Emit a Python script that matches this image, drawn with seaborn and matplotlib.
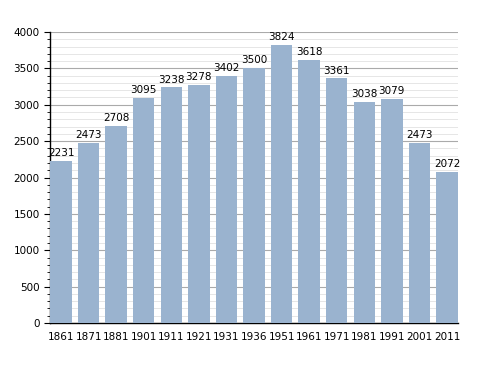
import numpy as np
import pandas as pd
import matplotlib
matplotlib.use('Agg')
import matplotlib.pyplot as plt
import seaborn as sns
from matplotlib.ticker import MultipleLocator

years = ['1861', '1871', '1881', '1901', '1911', '1921', '1931', '1936',
         '1951', '1961', '1971', '1981', '1991', '2001', '2011']
population = [2231, 2473, 2708, 3095, 3238, 3278, 3402, 3500,
              3824, 3618, 3361, 3038, 3079, 2473, 2072]

df = pd.DataFrame({'year': years, 'pop': population})

sns.set_style('white')
plt.rcParams['font.family'] = ['DejaVu Sans']
plt.rcParams['text.color'] = 'black'
plt.rcParams['xtick.color'] = 'black'
plt.rcParams['ytick.color'] = 'black'

fig = plt.figure(figsize=(4.88, 3.73), dpi=100)
ax = fig.add_axes([50 / 488, 50 / 373, 408 / 488, 291 / 373])

sns.barplot(data=df, x='year', y='pop', color='#9ab3cf', saturation=1,
            width=0.78, linewidth=0, edgecolor='none', ax=ax, zorder=3)

for i, v in enumerate(population):
    ax.text(i, v + 40, str(v), ha='center', va='bottom', fontsize=7.5,
            color='black', zorder=4)

ax.set_ylim(0, 4000)
ax.set_xlim(-0.4, len(years) - 0.6)
ax.yaxis.set_major_locator(MultipleLocator(500))
ax.yaxis.set_minor_locator(MultipleLocator(100))
ax.grid(which='major', axis='y', color='#aaaaaa', linewidth=0.8, zorder=0)
ax.grid(which='minor', axis='y', color='#e2e2e2', linewidth=0.6, zorder=0)
ax.set_axisbelow(True)

for s in ['top', 'right']:
    ax.spines[s].set_visible(False)
ax.spines['left'].set_color('black')
ax.spines['bottom'].set_color('black')
ax.spines['left'].set_linewidth(1)
ax.spines['bottom'].set_linewidth(1)

ax.tick_params(axis='y', which='major', left=True, length=4, width=0.8, labelsize=7.5)
ax.tick_params(axis='y', which='minor', left=True, length=2, width=0.6)
ax.tick_params(axis='x', bottom=False, labelsize=7.5, pad=3)
ax.set_xlabel('')
ax.set_ylabel('')

fig.savefig('out.png', dpi=100)
